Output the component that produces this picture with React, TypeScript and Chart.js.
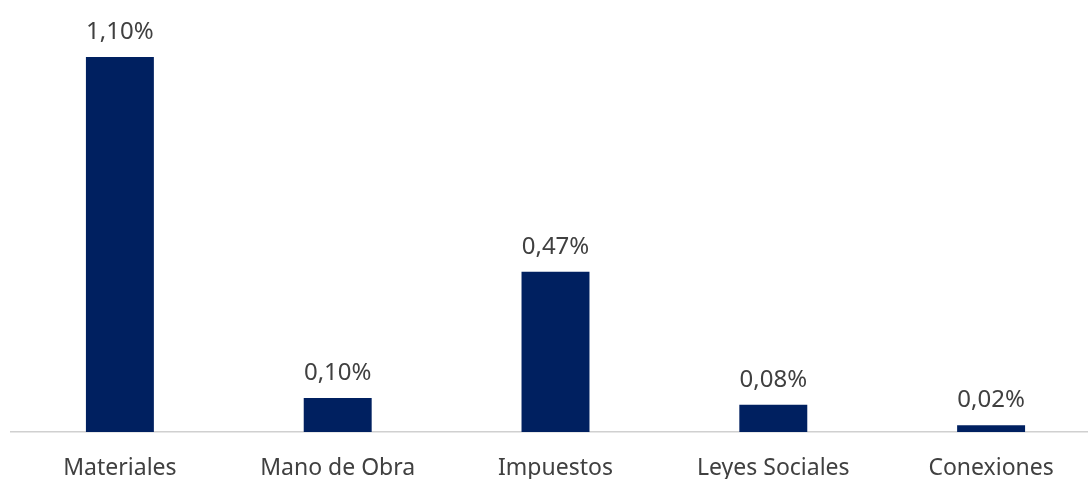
import React, { useEffect, useRef } from "react";
import { Chart, registerables } from "chart.js";

Chart.register(...registerables);

const categories = ["Materiales", "Mano de Obra", "Impuestos", "Leyes Sociales", "Conexiones"];
const values = [1.1, 0.1, 0.47, 0.08, 0.02];

const BAR_COLOR = "#002060";
const TEXT_COLOR = "#404040";
const FONT = "'Noto Sans', 'Open Sans', sans-serif";

const valueLabels = {
  id: "valueLabels",
  afterDatasetsDraw(chart: any) {
    const ctx = chart.ctx;
    const meta = chart.getDatasetMeta(0);
    ctx.save();
    ctx.font = `24px ${FONT}`;
    ctx.fillStyle = TEXT_COLOR;
    ctx.textAlign = "center";
    ctx.textBaseline = "middle";
    meta.data.forEach((bar: any, i: number) => {
      const v = values[i];
      const txt = v.toFixed(2).replace(".", ",") + "%";
      ctx.fillText(txt, bar.x, bar.y - 25);
    });
    ctx.restore();
  },
};

export default function App() {
  const ref = useRef<HTMLCanvasElement>(null);
  useEffect(() => {
    document.documentElement.style.overflow = "hidden";
    document.body.style.overflow = "hidden";
    const chart = new Chart(ref.current!, {
      type: "bar",
      data: {
        labels: categories,
        datasets: [
          {
            data: values,
            backgroundColor: BAR_COLOR,
            barPercentage: 0.312,
            categoryPercentage: 1,
          },
        ],
      },
      options: {
        responsive: false,
        animation: false,
        devicePixelRatio: 1,
        layout: { padding: { left: 11, right: 1, top: 0, bottom: 0 } },
        plugins: { legend: { display: false }, tooltip: { enabled: false } },
        scales: {
          x: {
            grid: { display: false, drawTicks: false },
            border: { display: true, color: "#d0d0d0", width: 1.5 },
            ticks: {
              color: TEXT_COLOR,
              font: { family: FONT, size: 23, lineHeight: 1 },
              padding: 25,
              maxRotation: 0,
              autoSkip: false,
            },
          },
          y: {
            display: false,
            min: 0,
            max: 1.267,
          },
        },
      },
      plugins: [valueLabels],
    });
    return () => chart.destroy();
  }, []);
  return (
    <div style={{ position: "fixed", left: 0, top: 0, width: 1101, height: 479, overflow: "hidden" }}>
      <canvas ref={ref} width={1101} height={505} style={{ width: 1101, height: 505, display: "block" }} />
    </div>
  );
}
